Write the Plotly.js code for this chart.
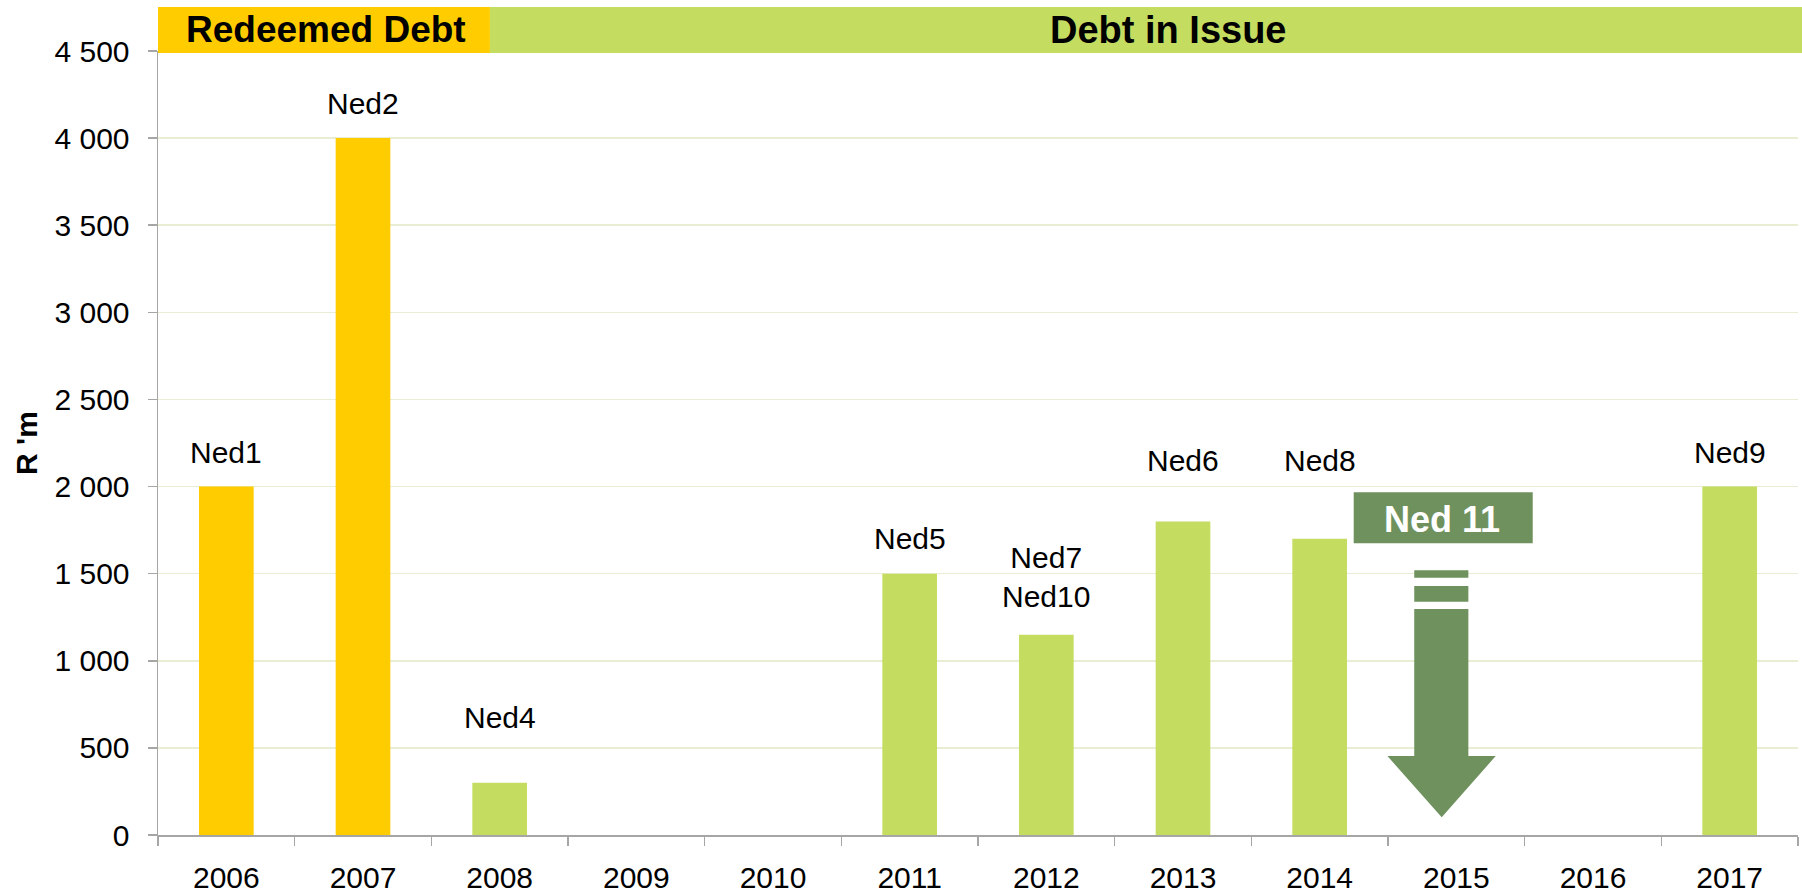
<!DOCTYPE html>
<html>
<head>
<meta charset="utf-8">
<script src="https://cdn.plot.ly/plotly-3.0.1.min.js"></script>
<style>html,body{margin:0;padding:0;background:#fff;}#chart{width:1802px;height:894px;}</style>
</head>
<body>
<div id="chart"></div>
<script>
// ---- data ----
const years = ['2006','2007','2008','2009','2010','2011','2012','2013','2014','2015','2016','2017'];
const amounts = [2000, 4000, 300, 0, 0, 1500, 1150, 1800, 1700, 0, 0, 2000];
const status = ['Redeemed','Redeemed','Issue','Issue','Issue','Issue','Issue','Issue','Issue','Issue','Issue','Issue'];
const labelYears = ['2006','2007','2008','2011','2012','2013','2014','2017'];
const labelTexts = ['Ned1','Ned2','Ned4','Ned5','Ned7<br>Ned10','Ned6','Ned8','Ned9'];
const labelY = [2195, 4200, 677, 1701, 1482, 2151, 2151, 2198];
const yTicks = [0, 500, 1000, 1500, 2000, 2500, 3000, 3500, 4000, 4500];
const bannerTexts = ['Redeemed Debt', 'Debt in Issue'];
const calloutText = 'Ned 11';

// ---- styles ----
const FONT = 'Liberation Sans, Arial, sans-serif';
const YELLOW = '#ffcc00';
const GREEN = '#c4dc60';
const DARK = '#6f915d';
const AXIS = '#a6a6a6';
const GRID = '#e8edd4';

const colors = status.map(s => s === 'Redeemed' ? YELLOW : GREEN);

const trace = {
  type: 'bar',
  x: years,
  y: amounts,
  marker: {color: colors, line: {width: 0}},
  width: 0.4,
  hoverinfo: 'x+y',
  showlegend: false
};

const annotations = labelYears.map((yr, i) => ({
  x: years.indexOf(yr), y: labelY[i], xref: 'x2', yref: 'y',
  text: labelTexts[i], showarrow: false,
  xanchor: 'center', yanchor: 'middle',
  font: {family: FONT, size: 30, color: '#000'}
}));

annotations.push({
  xref: 'paper', yref: 'paper', x: 0.1024, y: 1.0268,
  text: '<b>' + bannerTexts[0] + '</b>', showarrow: false,
  xanchor: 'center', yanchor: 'middle',
  font: {family: FONT, size: 37, color: '#000'}
});
annotations.push({
  xref: 'paper', yref: 'paper', x: 0.616, y: 1.0268,
  text: '<b>' + bannerTexts[1] + '</b>', showarrow: false,
  xanchor: 'center', yanchor: 'middle',
  font: {family: FONT, size: 38, color: '#000'}
});
annotations.push({
  xref: 'x2', yref: 'y', x: 8.895, y: 1813,
  text: '<b>' + calloutText + '</b>', showarrow: false,
  xanchor: 'center', yanchor: 'middle',
  font: {family: FONT, size: 36, color: '#fff'}
});

const shapes = [
  {type: 'rect', layer: 'below', xref: 'paper', yref: 'paper',
   x0: 0, x1: 0.2024, y0: 0.9974, y1: 1.0561,
   fillcolor: YELLOW, line: {width: 0}},
  {type: 'rect', layer: 'below', xref: 'paper', yref: 'paper',
   x0: 0.2024, x1: 1.0025, y0: 0.9974, y1: 1.0561,
   fillcolor: GREEN, line: {width: 0}},
  // callout box
  {type: 'rect', layer: 'above', xref: 'x2', yref: 'y',
   x0: 8.249, x1: 9.559, y0: 1675, y1: 1968,
   fillcolor: DARK, line: {width: 0}},
  // arrow stripes
  {type: 'rect', layer: 'above', xref: 'x2', yref: 'y',
   x0: 8.692, x1: 9.088, y0: 1476, y1: 1520,
   fillcolor: DARK, line: {width: 0}},
  {type: 'rect', layer: 'above', xref: 'x2', yref: 'y',
   x0: 8.692, x1: 9.088, y0: 1339, y1: 1429,
   fillcolor: DARK, line: {width: 0}},
  // arrow body + head
  {type: 'path', layer: 'above', xref: 'x2', yref: 'y',
   path: 'M 8.692 1297 L 9.088 1297 L 9.088 453 L 9.288 453 L 8.893 102 L 8.496 453 L 8.692 453 Z',
   fillcolor: DARK, line: {width: 0}}
];

const layout = {
  width: 1802, height: 894,
  margin: {l: 158, r: 4, t: 51, b: 59, pad: 0},
  paper_bgcolor: '#fff', plot_bgcolor: '#fff',
  separators: '. ',
  font: {family: FONT, size: 30, color: '#000'},
  bargap: 0.6,
  xaxis: {
    type: 'category', categoryorder: 'array', categoryarray: years,
    range: [-0.5, 11.5],
    showline: true, linecolor: AXIS, linewidth: 1.5,
    ticks: 'outside', tickson: 'boundaries', ticklen: 9, tickcolor: AXIS, tickwidth: 1.5,
    showgrid: false, zeroline: false,
    tickfont: {family: FONT, size: 30, color: '#000'},
    ticklabelstandoff: 15,
    fixedrange: true
  },
  xaxis2: {
    overlaying: 'x', range: [-0.5, 11.5], visible: false, fixedrange: true
  },
  yaxis: {
    range: [0, 4500], tickvals: yTicks, tickformat: ',d',
    showline: true, linecolor: AXIS, linewidth: 1.5,
    ticks: 'outside', ticklen: 9, tickcolor: AXIS, tickwidth: 1.5,
    showgrid: true, gridcolor: GRID, gridwidth: 1.5,
    zeroline: false,
    tickfont: {family: FONT, size: 30, color: '#000'},
    ticklabelstandoff: 12,
    title: {text: "<b>R 'm</b>", font: {family: FONT, size: 30, color: '#000'}, standoff: 8},
    fixedrange: true
  },
  annotations: annotations,
  shapes: shapes
};

Plotly.newPlot('chart', [trace], layout, {displayModeBar: false, staticPlot: true});
</script>
</body>
</html>
